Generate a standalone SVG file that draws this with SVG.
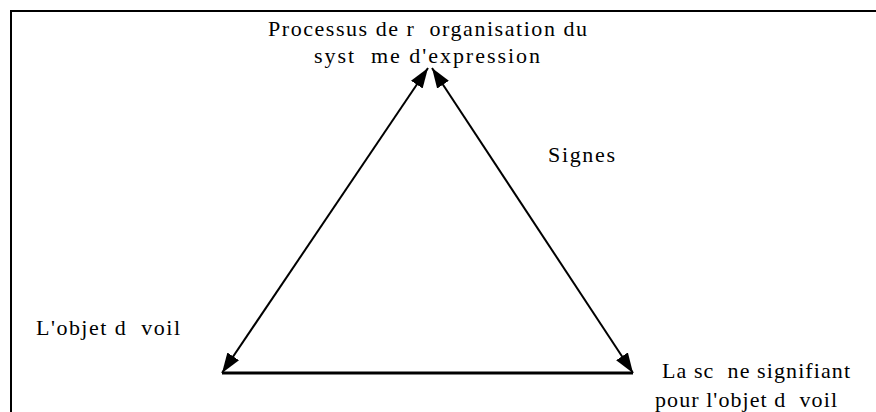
<svg xmlns="http://www.w3.org/2000/svg" width="876" height="412" viewBox="0 0 876 412">
<style>
text{font-family:"Liberation Serif","Times New Roman",serif;font-size:22px;fill:#000;white-space:pre}
.ln{stroke:#000;stroke-width:2;fill:none}
</style>
<defs>
<marker id="ah2" viewBox="0 0 20 14" refX="20" refY="7" markerWidth="20" markerHeight="14" markerUnits="userSpaceOnUse" orient="auto-start-reverse">
<path d="M0,0 L20,7 L0,14 z" fill="#000"/>
</marker>
</defs>
<rect width="876" height="412" fill="#fff"/>
<path d="M11,412 V11 H876" stroke="#000" stroke-width="2" fill="none"/>
<g id="connectors">
<line class="ln" x1="428" y1="68" x2="222" y2="373" marker-start="url(#ah2)" marker-end="url(#ah2)"/>
<line class="ln" x1="432" y1="68" x2="633" y2="373" marker-start="url(#ah2)" marker-end="url(#ah2)"/>
<line x1="222" y1="373" x2="633" y2="373" stroke="#000" stroke-width="3"/>
</g>
<g id="node-top">
<text x="268" y="36" textLength="319" lengthAdjust="spacing">Processus de r  organisation du</text>
<text x="314" y="63" textLength="226" lengthAdjust="spacing">syst  me d'expression</text>
</g>
<g id="node-signes">
<text x="548" y="162" textLength="67" lengthAdjust="spacing">Signes</text>
</g>
<g id="node-left">
<text x="36" y="335" textLength="144" lengthAdjust="spacing">L'objet d  voil</text>
</g>
<g id="node-right">
<text x="662" y="378" textLength="188" lengthAdjust="spacing">La sc  ne signifiant</text>
<text x="655" y="407" textLength="182" lengthAdjust="spacing">pour l'objet d  voil</text>
</g>
</svg>
